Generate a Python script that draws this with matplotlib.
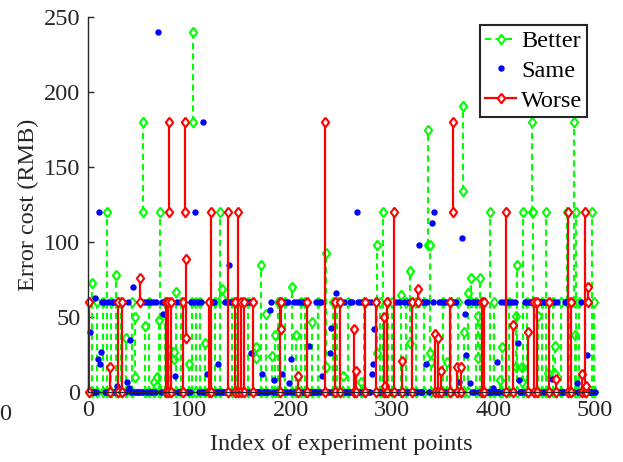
import numpy as np
import matplotlib.pyplot as plt

plt.rcParams['font.family'] = ['Liberation Serif', 'DejaVu Serif']
plt.rcParams['font.size'] = 17.5

n_points = 500

# "Better": index, lower cost, upper cost
better_idx = [4, 9, 15, 19, 23, 28, 33, 37, 43, 46, 54, 56, 60, 65, 68, 70, 71, 76, 81, 85,
              87, 92, 100, 103, 104, 107, 110, 115, 125, 130, 132, 142, 146, 158, 166, 171,
              176, 181, 184, 187, 194, 201, 205, 210, 214, 221, 227, 235, 242, 246, 251, 256,
              269, 272, 285, 288, 291, 296, 300, 309, 314, 318, 323, 331, 335, 337, 338, 350,
              354, 358, 365, 370, 371, 375, 378, 383, 385, 387, 396, 400, 406, 408, 415, 422,
              423, 428, 429, 433, 438, 439, 444, 448, 452, 454, 459, 461, 466, 472, 475, 479,
              480, 481, 484, 497, 499]
better_lo = [0, 0, 0, 0, 0, 0, 0, 0, 0, 10, 120, 0, 0, 0, 4, 0, 0, 0, 0, 22,
             0, 0, 0, 0, 180, 0, 0, 0, 0, 0, 63, 0, 0, 0, 23, 0,
             0, 0, 0, 0, 0, 0, 0, 0, 0, 0, 0, 17, 0, 0, 0, 0,
             0, 0, 26, 0, 0, 0, 0, 0, 0, 33, 0, 0, 98, 26, 0, 0,
             0, 0, 0, 134, 0, 0, 60, 0, 23, 0, 0, 0, 0, 0, 0, 17,
             0, 7, 0, 0, 120, 60, 0, 0, 0, 0, 0, 12, 0, 60, 0, 60,
             0, 0, 0, 0, 0]
better_hi = [73, 60, 60, 120, 60, 78, 60, 36, 60, 50, 180, 44, 60, 7, 10, 48, 120, 60, 28, 27,
             67, 60, 19, 60, 240, 60, 60, 33, 60, 120, 69, 60, 60, 60, 30, 85,
             52, 24, 38, 60, 60, 70, 38, 60, 60, 47, 60, 93, 60, 60, 11, 60,
             7, 60, 98, 60, 120, 60, 60, 65, 60, 81, 60, 60, 175, 98, 20, 60,
             20, 60, 60, 191, 40, 66, 76, 60, 51, 76, 120, 60, 8, 30, 60, 51,
             85, 17, 120, 60, 180, 120, 51, 60, 120, 13, 60, 31, 60, 120, 60, 180,
             38, 120, 60, 120, 60]

# "Worse": index, lower cost, upper cost
worse_idx = [1, 22, 30, 34, 51, 77, 79, 80, 82, 94, 96, 97, 119, 121, 138, 145, 148, 151,
             154, 163, 189, 190, 207, 216, 234, 244, 249, 262, 264, 273, 284, 292, 293, 295,
             302, 310, 320, 325, 342, 345, 348, 357, 360, 364, 368, 389, 391, 412, 419, 434,
             440, 443, 455, 462, 473, 476, 487, 490, 491, 493]
worse_lo = [0, 0, 0, 0, 60, 0, 0, 120, 0, 0, 120, 36, 0, 0, 0, 0, 0, 0,
            0, 0, 0, 42, 0, 0, 0, 0, 0, 0, 0, 0, 0, 0, 0, 0,
            0, 0, 0, 60, 0, 0, 0, 0, 120, 0, 0, 0, 0, 0, 0, 0,
            0, 0, 0, 0, 0, 0, 0, 0, 0, 60]
worse_hi = [60, 17, 60, 60, 76, 60, 60, 180, 60, 60, 180, 89, 60, 120, 120, 60, 120, 60,
            60, 60, 60, 60, 11, 60, 180, 60, 60, 42, 14, 60, 60, 50, 4, 60,
            120, 21, 60, 69, 39, 36, 14, 60, 180, 17, 17, 60, 60, 120, 45, 40,
            60, 60, 60, 9, 120, 60, 12, 120, 4, 70]

# "Same": scattered values
same_idx = [2, 7, 10, 11, 12, 13, 29, 38, 40, 41, 44, 69, 74, 86, 106, 113, 117, 128, 139,
            161, 172, 179, 183, 191, 198, 200, 218, 231, 239, 240, 245, 265, 280, 281, 282,
            326, 333, 339, 341, 366, 369, 372, 373, 377, 399, 403, 424, 425, 458, 482, 492]
same_val = [40, 63, 22, 120, 19, 27, 4, 7, 3, 35, 70, 240, 52, 11, 120, 180, 12, 19, 85,
            26, 12, 55, 8, 12, 6, 22, 31, 11, 26, 43, 66, 120, 12, 19, 42,
            98, 19, 113, 120, 7, 103, 52, 25, 6, 3, 20, 33, 8, 9, 6, 25]

# "Same" at 60 RMB
same60_idx = [14, 16, 20, 24, 26, 32, 35, 39, 55, 58, 61, 64, 67, 73, 75, 88, 102, 105, 108,
              111, 122, 124, 135, 137, 140, 143, 155, 157, 160, 162, 180, 192, 195, 197, 203,
              206, 209, 212, 225, 228, 230, 252, 258, 260, 266, 268, 271, 274, 276, 279, 304,
              307, 312, 316, 330, 332, 334, 340, 346, 349, 352, 355, 361, 363, 374, 376, 380,
              382, 384, 407, 410, 413, 416, 418, 421, 431, 432, 435, 437, 445, 447, 450, 453,
              456, 460, 463, 470, 471, 474, 477, 486]

# the remaining experiment points are "Same" at 0
used = set(better_idx) | set(worse_idx) | set(same_idx) | set(same60_idx)
same0_idx = [i for i in range(1, n_points + 1) if i not in used]

dia = [(0, 1), (0.75, 0), (0, -1), (-0.75, 0), (0, 1)]

fig = plt.figure(figsize=(6.23, 4.62), dpi=100)
ax = fig.add_axes([88 / 623, 1 - 392 / 462, 507 / 623, 375 / 462])

for k, (i, a, b) in enumerate(zip(better_idx, better_lo, better_hi)):
    ax.plot([i, i], [a, b], color='#00ff00', ls='--', dashes=(3, 2), lw=1.5,
            marker=dia, ms=7, mfc='white', mec='#00ff00', mew=1.5,
            label='Better' if k == 0 else None, clip_on=False)

ax.plot(same_idx + same60_idx + same0_idx,
        same_val + [60] * len(same60_idx) + [0] * len(same0_idx),
        ls='none', marker='o', ms=4.6, color='#0000ff', mec='none',
        label='Same', clip_on=False)

for k, (i, a, b) in enumerate(zip(worse_idx, worse_lo, worse_hi)):
    ax.plot([i, i], [a, b], color='#ff0000', ls='-', lw=1.6,
            marker=dia, ms=7, mfc='white', mec='#ff0000', mew=1.5,
            label='Worse' if k == 0 else None, clip_on=False)

ax.set_xlim(0, 500)
ax.set_ylim(0, 250)
ax.set_xticks([0, 100, 200, 300, 400, 500])
ax.set_yticks([0, 50, 100, 150, 200, 250])
ax.spines['top'].set_visible(False)
ax.spines['right'].set_visible(False)
for s in ['left', 'bottom']:
    ax.spines[s].set_color('#262626')
    ax.spines[s].set_linewidth(1.0)
ax.tick_params(direction='in', length=4, width=1.0, colors='#262626', pad=5.5,
               labelsize=17.5)

ax.set_xlabel('Index of experiment points', color='#262626')
ax.set_ylabel('Error cost (RMB)', color='#262626')
ax.xaxis.set_label_coords(0.5, -0.112)
ax.yaxis.set_label_coords(-0.097, 0.5)

leg = ax.legend(loc='upper right', bbox_to_anchor=(0.985, 0.978), fontsize=17.5,
                handlelength=1.3, handletextpad=0.2, labelspacing=0.32,
                borderpad=0.2, borderaxespad=0, fancybox=False, framealpha=1)
leg.get_frame().set_edgecolor('#262626')
leg.get_frame().set_linewidth(1.5)

fig.text(11 / 623, 1 - 415 / 462, '0', ha='right', va='center', color='#262626',
         fontsize=17.5)

fig.savefig('out.png', dpi=100)
